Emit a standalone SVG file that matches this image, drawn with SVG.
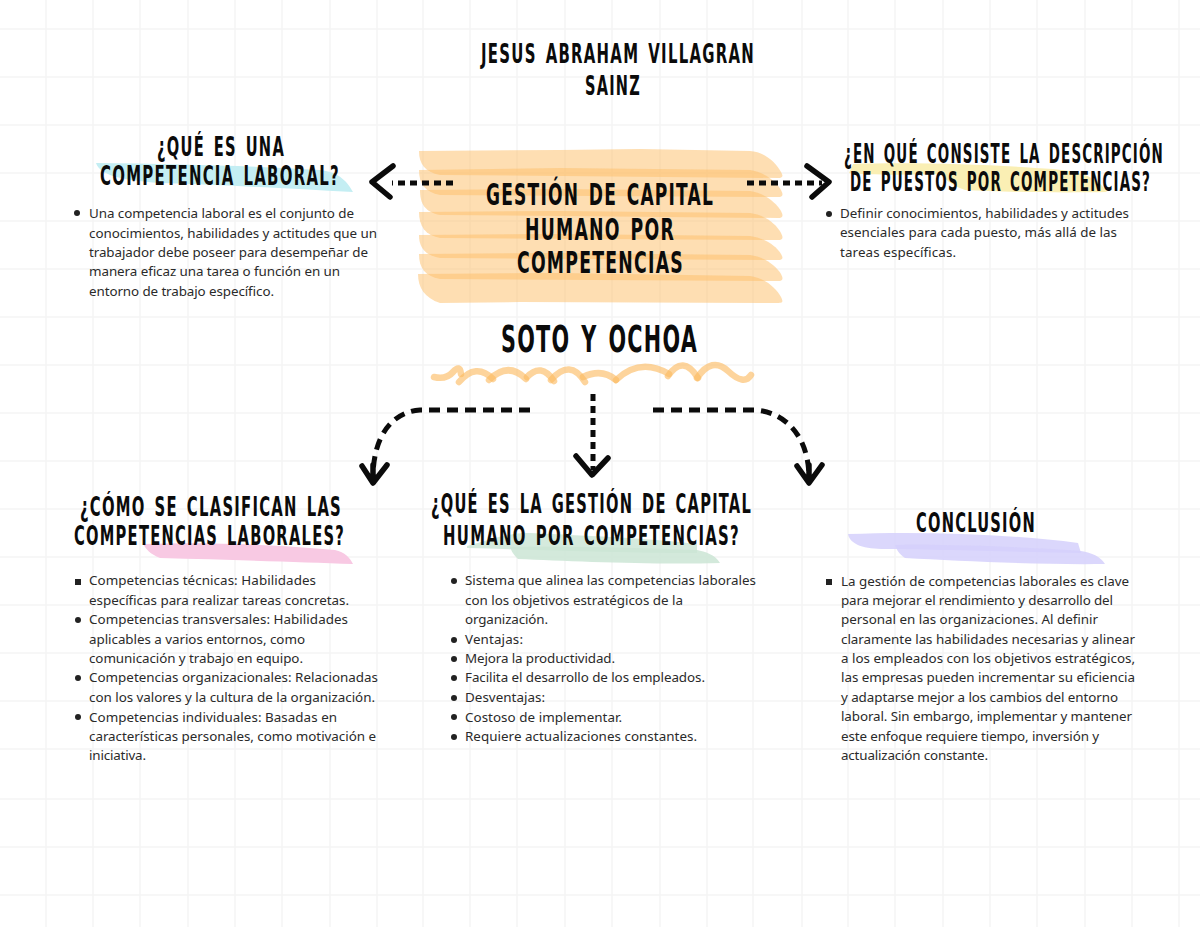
<svg xmlns="http://www.w3.org/2000/svg" width="1200" height="927" viewBox="0 0 1200 927">
<style>
.h{font-family:"Liberation Sans Narrow","DejaVu Sans Condensed","Liberation Sans",sans-serif;font-weight:700;fill:#0b0b0b;letter-spacing:2px;word-spacing:4px}
.b{font-family:"Noto Sans","Liberation Sans",sans-serif;font-size:13.4px;fill:#2a2a2a}
.g{stroke:#f5f5f5;stroke-width:1.6;fill:none}
.band{fill:#fdbf6c;fill-opacity:.52}
.wave{fill:none;stroke:#fbb95f;stroke-opacity:.62;stroke-width:6.5;stroke-linecap:round}
.dash{fill:none;stroke:#0b0b0b;stroke-width:5;stroke-dasharray:11 7}
.dot{fill:none;stroke:#0b0b0b;stroke-width:5;stroke-dasharray:7 5}
.head{fill:none;stroke:#0b0b0b;stroke-width:5.5;stroke-linecap:round;stroke-linejoin:round}
</style>
<rect width="1200" height="927" fill="#fff"/>
<g id="grid">
<path class="g" d="M46 0V927M93 0V927M140 0V927M188 0V927M235 0V927M282 0V927M330 0V927M377 0V927M423 0V927M470 0V927M517 0V927M565 0V927M612 0V927M660 0V927M707 0V927M753 0V927M802 0V927M848 0V927M895 0V927M943 0V927M990 0V927M1037 0V927M1085 0V927M1132 0V927M1179 0V927"/>
<path class="g" d="M0 29H1200M0 77H1200M0 125H1200M0 173H1200M0 221H1200M0 269H1200M0 317H1200M0 365H1200M0 413H1200M0 461H1200M0 509H1200M0 557H1200M0 605H1200M0 653H1200M0 701H1200M0 749H1200M0 799H1200M0 847H1200M0 895H1200"/>
</g>
<g id="title">
<text class="h" font-size="26" transform="translate(481 63) scale(.6 1)" textLength="456.7" lengthAdjust="spacingAndGlyphs">JESUS ABRAHAM VILLAGRAN</text>
<text class="h" font-size="26" transform="translate(585 95) scale(.6 1)" textLength="93.3" lengthAdjust="spacingAndGlyphs">SAINZ</text>
</g>
<g id="node-central">
<path class="band" d="M419 151L560 150L640 149L750 151C765 152 776 163 781 172C784 177 782 178 778 178L440 175C425 172 419 164 419 151Z"/>
<path class="band" d="M419 170L560 168L750 170C765 172 776 182 781 190C784 196 782 197 778 197L440 195C425 192 419 184 419 170Z"/>
<path class="band" d="M420 190L560 189L750 191C765 193 776 203 781 211C784 217 782 218 778 218L440 215C425 212 420 204 420 190Z"/>
<path class="band" d="M419 212L560 211L750 213C765 215 776 224 781 233C784 239 782 240 778 240L440 238C425 235 419 226 419 212Z"/>
<path class="band" d="M419 235L560 234L750 236C765 238 776 246 781 254C784 259 782 260 778 260L440 258C425 255 419 248 419 235Z"/>
<path class="band" d="M419 254L560 253L750 255C765 257 776 266 781 274C784 280 782 281 778 281L440 279C425 276 419 268 419 254Z"/>
<path class="band" d="M418 274L560 273L750 276C765 278 776 288 781 297C784 303 782 303 776 303L520 302L440 303C425 298 418 288 418 274Z"/>
<text class="h" font-size="31" transform="translate(486 205) scale(.6 1)" textLength="380" lengthAdjust="spacingAndGlyphs">GESTIÓN DE CAPITAL</text>
<text class="h" font-size="31" transform="translate(525 240) scale(.6 1)" textLength="250" lengthAdjust="spacingAndGlyphs">HUMANO POR</text>
<text class="h" font-size="31" transform="translate(517 273) scale(.6 1)" textLength="278.3" lengthAdjust="spacingAndGlyphs">COMPETENCIAS</text>
</g>
<g id="node-soto">
<text class="h" font-size="37" transform="translate(501 352) scale(.6 1)" textLength="328.3" lengthAdjust="spacingAndGlyphs">SOTO Y OCHOA</text>
<path class="wave" d="M434 377Q446 380 453 372T461 374"/>
<path class="wave" d="M459 382Q476 362 493 379"/>
<path class="wave" d="M489 380Q508 361 526 379"/>
<path class="wave" d="M527 377Q541 362 554 381"/>
<path class="wave" d="M551 380Q570 358 585 382"/>
<path class="wave" d="M583 377Q602 368 616 380"/>
<path class="wave" d="M616 380Q640 357 669 374"/>
<path class="wave" d="M668 376Q683 354 698 378"/>
<path class="wave" d="M697 378Q712 356 728 371T751 375"/>
</g>
<g id="node-competencia">
<path d="M96 163C180 164 260 166 320 170C340 172 348 183 353 192C290 189 230 185 160 183C120 180 100 175 96 163Z" fill="#c4eef3"/>
<text class="h" font-size="26" transform="translate(157 156) scale(.6 1)" textLength="213.3" lengthAdjust="spacingAndGlyphs">¿QUÉ ES UNA</text>
<text class="h" font-size="26" transform="translate(100 185) scale(.6 1)" textLength="400" lengthAdjust="spacingAndGlyphs">COMPETENCIA LABORAL?</text>
<circle cx="77" cy="213" r="3" fill="#222"/>
<text class="b" x="89" y="218" textLength="265">Una competencia laboral es el conjunto de</text>
<text class="b" x="89" y="238" textLength="288">conocimientos, habilidades y actitudes que un</text>
<text class="b" x="89" y="257" textLength="279">trabajador debe poseer para desempeñar de</text>
<text class="b" x="89" y="276" textLength="251">manera eficaz una tarea o función en un</text>
<text class="b" x="89" y="296" textLength="185">entorno de trabajo específico.</text>
</g>
<g id="node-descripcion">
<path d="M853 164C920 162 1000 165 1053 169C1090 172 1100 182 1107 192C1060 193 1000 192 965 190C950 185 945 178 940 174C905 175 865 175 849 173Z" fill="#faefb4"/>
<text class="h" font-size="26" transform="translate(844 163) scale(.6 1)" textLength="533.3" lengthAdjust="spacingAndGlyphs">¿EN QUÉ CONSISTE LA DESCRIPCIÓN</text>
<text class="h" font-size="26" transform="translate(850 191) scale(.6 1)" textLength="501.7" lengthAdjust="spacingAndGlyphs">DE PUESTOS POR COMPETENCIAS?</text>
<circle cx="829" cy="214" r="3" fill="#222"/>
<text class="b" x="840" y="218" textLength="289">Definir conocimientos, habilidades y actitudes</text>
<text class="b" x="840" y="237" textLength="277">esenciales para cada puesto, más allá de las</text>
<text class="b" x="840" y="257" textLength="116">tareas específicas.</text>
</g>
<g id="node-clasifican">
<path d="M143 544C210 542 280 545 335 550C345 552 350 558 353 564C300 562 235 560 160 558C150 554 146 549 143 544Z" fill="#f8c9e3"/>
<text class="h" font-size="26" transform="translate(80 516) scale(.6 1)" textLength="436.7" lengthAdjust="spacingAndGlyphs">¿CÓMO SE CLASIFICAN LAS</text>
<text class="h" font-size="26" transform="translate(74 545) scale(.6 1)" textLength="451.7" lengthAdjust="spacingAndGlyphs">COMPETENCIAS LABORALES?</text>
<rect x="75" y="579" width="6" height="6" fill="#222"/>
<text class="b" x="89" y="585" textLength="227">Competencias técnicas: Habilidades</text>
<text class="b" x="89" y="605" textLength="260">específicas para realizar tareas concretas.</text>
<circle cx="78" cy="620" r="3" fill="#222"/>
<text class="b" x="89" y="624" textLength="259">Competencias transversales: Habilidades</text>
<text class="b" x="89" y="644" textLength="216">aplicables a varios entornos, como</text>
<text class="b" x="89" y="663" textLength="214">comunicación y trabajo en equipo.</text>
<circle cx="78" cy="678" r="3" fill="#222"/>
<text class="b" x="89" y="682" textLength="289">Competencias organizacionales: Relacionadas</text>
<text class="b" x="89" y="702" textLength="286">con los valores y la cultura de la organización.</text>
<circle cx="78" cy="717" r="3" fill="#222"/>
<text class="b" x="89" y="722" textLength="248">Competencias individuales: Basadas en</text>
<text class="b" x="89" y="741" textLength="287">características personales, como motivación e</text>
<text class="b" x="89" y="760" textLength="57">iniciativa.</text>
</g>
<g id="node-gestion">
<path d="M467 546C490 540 510 532 530 533C590 536 650 538 697 544L697 553C620 553 540 550 467 548Z" fill="#cbe5d5" fill-opacity=".8"/>
<path d="M510 547C580 546 640 548 697 550C705 552 715 554 720 563C650 565 570 561 518 559C513 554 512 552 510 547Z" fill="#cbe5d5" fill-opacity=".85"/>
<text class="h" font-size="26" transform="translate(431 513) scale(.6 1)" textLength="535" lengthAdjust="spacingAndGlyphs">¿QUÉ ES LA GESTIÓN DE CAPITAL</text>
<text class="h" font-size="26" transform="translate(443 545) scale(.6 1)" textLength="495" lengthAdjust="spacingAndGlyphs">HUMANO POR COMPETENCIAS?</text>
<circle cx="454" cy="581" r="3" fill="#222"/>
<text class="b" x="465" y="585" textLength="291">Sistema que alinea las competencias laborales</text>
<text class="b" x="465" y="605" textLength="218">con los objetivos estratégicos de la</text>
<text class="b" x="465" y="624" textLength="83">organización.</text>
<circle cx="454" cy="640" r="3" fill="#222"/>
<text class="b" x="465" y="644" textLength="58">Ventajas:</text>
<circle cx="454" cy="659" r="3" fill="#222"/>
<text class="b" x="465" y="663" textLength="150">Mejora la productividad.</text>
<circle cx="454" cy="678" r="3" fill="#222"/>
<text class="b" x="465" y="682" textLength="240">Facilita el desarrollo de los empleados.</text>
<circle cx="454" cy="698" r="3" fill="#222"/>
<text class="b" x="465" y="702" textLength="80">Desventajas:</text>
<circle cx="454" cy="717" r="3" fill="#222"/>
<text class="b" x="465" y="722" textLength="157">Costoso de implementar.</text>
<circle cx="454" cy="737" r="3" fill="#222"/>
<text class="b" x="465" y="741" textLength="232">Requiere actualizaciones constantes.</text>
</g>
<g id="node-conclusion">
<path d="M848 534C920 531 1010 534 1078 543L1081 553C1010 552 920 549 885 549C865 549 850 545 848 534Z" fill="#d5d0fb" fill-opacity=".85"/>
<path d="M895 545C960 544 1040 548 1081 551C1092 553 1100 556 1105 564C1040 565 960 561 905 558C898 553 897 550 895 545Z" fill="#d5d0fb" fill-opacity=".85"/>
<text class="h" font-size="26" transform="translate(916 532) scale(.6 1)" textLength="200" lengthAdjust="spacingAndGlyphs">CONCLUSIÓN</text>
<rect x="826" y="579" width="6" height="6" fill="#222"/>
<text class="b" x="841" y="586" textLength="288">La gestión de competencias laborales es clave</text>
<text class="b" x="841" y="605" textLength="272">para mejorar el rendimiento y desarrollo del</text>
<text class="b" x="841" y="624" textLength="257">personal en las organizaciones. Al definir</text>
<text class="b" x="841" y="644" textLength="294">claramente las habilidades necesarias y alinear</text>
<text class="b" x="841" y="663" textLength="294">a los empleados con los objetivos estratégicos,</text>
<text class="b" x="841" y="682" textLength="294">las empresas pueden incrementar su eficiencia</text>
<text class="b" x="841" y="702" textLength="277">y adaptarse mejor a los cambios del entorno</text>
<text class="b" x="841" y="721" textLength="291">laboral. Sin embargo, implementar y mantener</text>
<text class="b" x="841" y="741" textLength="258">este enfoque requiere tiempo, inversión y</text>
<text class="b" x="841" y="760" textLength="147">actualización constante.</text>
</g>
<g id="connectors">
<path class="dot" d="M453 183H392"/>
<path class="head" d="M393 166L372 182L390 197"/>
<path class="dot" d="M747 183H822"/>
<path class="head" d="M807 166L829 182L812 197"/>
<path class="dash" d="M530 410H420C392 412 373 436 373 478"/>
<path class="head" d="M362 466L373 483L387 465M373 465V482"/>
<path class="dot" d="M593 394V470"/>
<path class="head" d="M576 456L592 475L608 458"/>
<path class="dash" d="M653 410H755C785 412 809 436 809 478"/>
<path class="head" d="M797 466L809 483L822 465M809 465V482"/>
</g>
</svg>
